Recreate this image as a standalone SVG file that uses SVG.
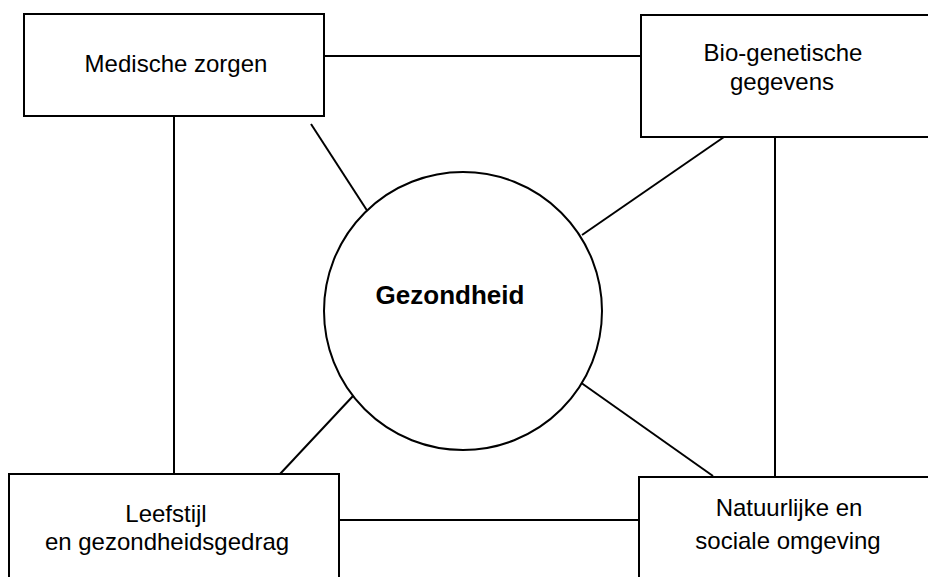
<svg xmlns="http://www.w3.org/2000/svg" width="928" height="577" viewBox="0 0 928 577">
  <style>
    .box { fill: #fff; stroke: #000; stroke-width: 2; }
    .hub { fill: #fff; stroke: #000; stroke-width: 2; }
    .link { stroke: #000; stroke-width: 2; fill: none; }
    .lbl { font-family: "Liberation Sans", Arial, sans-serif; font-size: 24px; fill: #000; text-anchor: middle; }
    .hub-lbl { font-family: "Liberation Sans", Arial, sans-serif; font-size: 26px; font-weight: bold; fill: #000; text-anchor: middle; }
  </style>
  <rect width="928" height="577" fill="#fff"/>

  <!-- connectors between the factors and towards health -->
  <g id="connectors">
    <line class="link" x1="324" y1="56" x2="641" y2="56"/>
    <line class="link" x1="174" y1="116" x2="174" y2="474"/>
    <line class="link" x1="775" y1="137" x2="775" y2="477"/>
    <line class="link" x1="339" y1="520" x2="639" y2="520"/>
    <line class="link" x1="311" y1="124" x2="368" y2="212"/>
    <line class="link" x1="724" y1="137" x2="582" y2="235"/>
    <line class="link" x1="280" y1="474" x2="353" y2="396"/>
    <line class="link" x1="713" y1="476" x2="580" y2="382"/>
  </g>

  <g id="medische-zorgen">
    <rect class="box" x="24" y="14" width="300" height="102"/>
    <text class="lbl" x="176" y="72">Medische zorgen</text>
  </g>

  <g id="bio-genetische-gegevens">
    <rect class="box" x="641" y="15" width="300" height="122"/>
    <text class="lbl" x="783" y="61">Bio-genetische</text>
    <text class="lbl" x="782" y="90">gegevens</text>
  </g>

  <g id="leefstijl">
    <rect class="box" x="9" y="474" width="330" height="120"/>
    <text class="lbl" x="166" y="522">Leefstijl</text>
    <text class="lbl" x="167" y="550">en gezondheidsgedrag</text>
  </g>

  <g id="omgeving">
    <rect class="box" x="639" y="477" width="300" height="120"/>
    <text class="lbl" x="789" y="516">Natuurlijke en</text>
    <text class="lbl" x="788" y="549">sociale omgeving</text>
  </g>

  <g id="gezondheid">
    <circle class="hub" cx="463" cy="311" r="139"/>
    <text class="hub-lbl" x="450" y="304">Gezondheid</text>
  </g>
</svg>
